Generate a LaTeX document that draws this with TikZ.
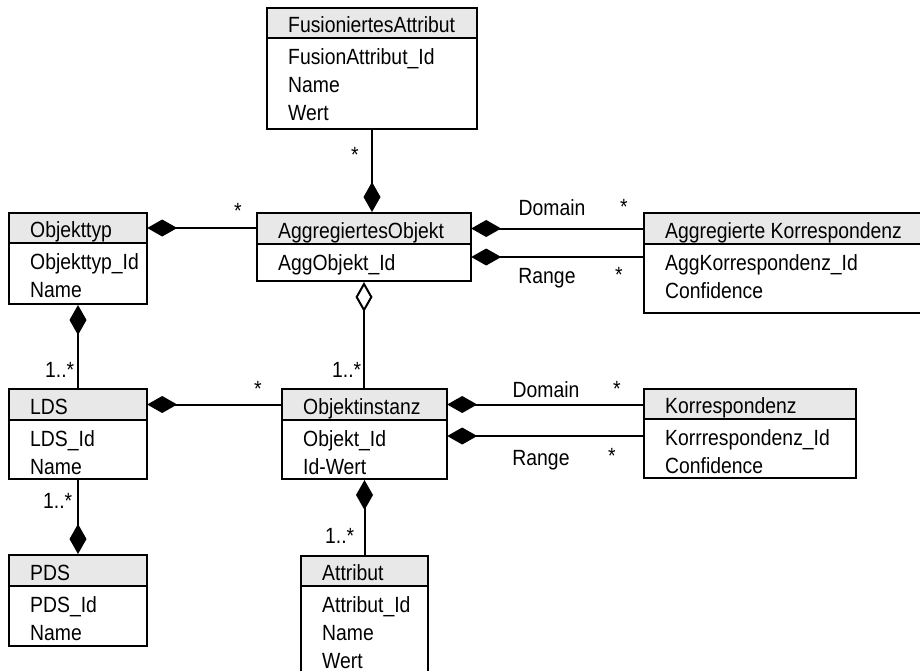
\documentclass[tikz,border=0pt]{standalone}
\usepackage{fontspec}
\setmainfont{Liberation Sans}[FakeStretch=0.88]
\usetikzlibrary{arrows.meta,fit}
\definecolor{headgray}{HTML}{E8E8E8}
\tikzset{
  classframe/.style={draw=black, line width=2pt, inner sep=0pt},
  classline/.style={draw=black, line width=2pt},
  area/.style={inner sep=0pt},
  classtext/.style={inner sep=0pt, anchor=base west, font=\fontsize{22}{26}\selectfont},
  lbl/.style={inner sep=0pt, font=\fontsize{22}{26}\selectfont},
  assoc/.style={draw=black, line width=2pt},
  comp/.style={arrows={Diamond[length=30pt,width=17pt]-}},
  aggr/.style={arrows={Diamond[open,fill=white,length=30pt,width=17pt]-}},
}
% #1 name, #2 left, #3 top, #4 right, #5 header bottom, #6 bottom, #7 title, #8 attributes
\newcommand{\umlclass}[8]{%
  \fill[headgray] (#2,#3) rectangle (#4,#5);
  \node[area, fit={(#2,#3) (#4,#5)}] (#1-h) {};
  \node[area, fit={(#2,#5) (#4,#6)}] (#1-b) {};
  \node[classframe, fit={(#2,#3) (#4,#6)}] (#1) {};
  \draw[classline] (#2,#5) -- (#4,#5);
  \node[classtext] (#1-t) at (#2+21,#5-5.5) {#7};
  \foreach \a [count=\i] in {#8}
    \node[classtext] (#1-a\i) at (#2+21,#5+26+28*\i-28) {\a};
}
\begin{document}
\begin{tikzpicture}[x=1pt,y=-1pt]
\useasboundingbox (0,0) rectangle (920,670);
\clip (0,0) rectangle (920,670);

% classes
\umlclass{fa}{267}{8}{477}{38}{129}{FusioniertesAttribut}{FusionAttribut\_Id,Name,Wert}
\umlclass{agg}{257}{213}{471}{244}{281}{AggregiertesObjekt}{AggObjekt\_Id}
\umlclass{aggk}{644}{213}{940}{244}{313}{Aggregierte Korrespondenz}{AggKorrespondenz\_Id,Confidence}
\umlclass{otyp}{9}{213}{147}{243}{304}{Objekttyp}{Objekttyp\_Id,Name}
\umlclass{lds}{9}{389}{147}{420}{479}{LDS}{LDS\_Id,Name}
\umlclass{pds}{9}{555}{147}{586}{646}{PDS}{PDS\_Id,Name}
\umlclass{oinst}{282}{389}{447}{420}{479}{Objektinstanz}{Objekt\_Id,Id-Wert}
\umlclass{korr}{644}{389}{856}{419}{478}{Korrespondenz}{Korrrespondenz\_Id,Confidence}
\umlclass{attr}{301}{556}{428}{586}{700}{Attribut}{Attribut\_Id,Name,Wert}

% associations
\draw[assoc, comp] (fa.south |- agg.north) -- (fa.south);
\draw[assoc, comp] (otyp-h.east) -- (otyp-h.east -| agg.west);
\draw[assoc, comp] (agg-h.east) -- (agg-h.east -| aggk.west);
\draw[assoc, comp] ([yshift=5.5pt]agg-b.east) -- ([yshift=5.5pt]agg-b.east -| aggk.west);
\draw[assoc, aggr] (agg.south) -- (agg.south |- oinst.north);
\draw[assoc, comp] (otyp.south) -- (lds.north);
\draw[assoc, comp] (lds-h.east) -- (lds-h.east -| oinst.west);
\draw[assoc, comp] (oinst-h.east) -- (oinst-h.east -| korr.west);
\draw[assoc, comp] ([yshift=13.5pt]oinst-b.east) -- ([yshift=13.5pt]oinst-b.east -| korr.west);
\draw[assoc, comp] (oinst.south) -- (oinst.south |- attr.north);
\draw[assoc, comp] (pds.north) -- (lds.south);

% role names and multiplicities
\node[lbl, anchor=base] (m1) at (355,162) {*};
\node[lbl, anchor=base] (m2) at (238,218) {*};
\node[lbl, anchor=base] (r1) at (552,215) {Domain};
\node[lbl, anchor=base] (m3) at (624,214) {*};
\node[lbl, anchor=base] (r2) at (547,283) {Range};
\node[lbl, anchor=base] (m4) at (619,282) {*};
\node[lbl, anchor=base west] (m5) at (332,377) {1..*};
\node[lbl, anchor=base west] (m6) at (45,377) {1..*};
\node[lbl, anchor=base] (m7) at (258,396) {*};
\node[lbl, anchor=base] (r3) at (546,397) {Domain};
\node[lbl, anchor=base] (m8) at (617,396) {*};
\node[lbl, anchor=base] (r4) at (541,465) {Range};
\node[lbl, anchor=base] (m9) at (612,463) {*};
\node[lbl, anchor=base west] (m10) at (43,508) {1..*};
\node[lbl, anchor=base west] (m11) at (325,543) {1..*};
\end{tikzpicture}
\end{document}
